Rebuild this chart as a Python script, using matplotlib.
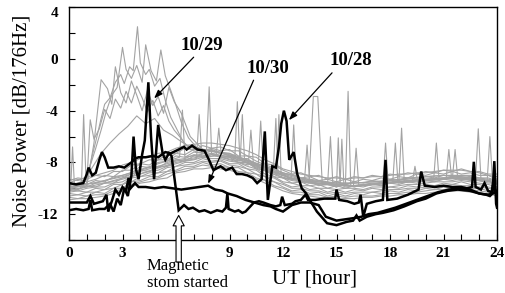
import numpy as np
import matplotlib.pyplot as plt

plt.rcParams['font.family'] = ['Liberation Serif', 'DejaVu Serif']

# axis ticks (the "6" label is hidden behind the storm arrow in the original)
x_ticks = [0, 3, 6, 9, 12, 15, 18, 21, 24]
x_tick_labels = ['0', '3', '', '9', '12', '15', '18', '21', '24']
y_ticks = [-12, -8, -4, 0, 4]
y_tick_labels = ['-12', '-8', '-4', '0', '4']

# quiet days, half-hourly values (0..24 UT)
g1 = [-9.4, -9.2, -9.3, -9.0, -9.1, -8.7, -8.7, -8.2, -8.1, -7.8, -7.8, -7.4, -7.3, -6.9, -7.0, -6.7, -6.9, -6.8, -7.1, -7.1, -7.5, -7.6, -8.1, -8.2, -8.6, -8.9, -8.8, -9.1, -9.0, -9.3, -9.1, -9.3, -9.1, -9.2, -9.0, -9.1, -8.9, -9.0, -8.8, -8.9, -8.7, -8.8, -8.6, -8.7, -8.5, -8.7, -8.7, -8.9, -8.9]
g2 = [-9.8, -9.6, -9.7, -9.4, -9.5, -9.1, -9.0, -8.8, -8.3, -8.4, -8.0, -7.9, -7.5, -7.6, -7.2, -7.3, -7.1, -7.3, -7.3, -7.7, -7.7, -8.2, -8.3, -8.8, -8.9, -9.3, -9.2, -9.5, -9.4, -9.6, -9.5, -9.7, -9.5, -9.6, -9.4, -9.5, -9.3, -9.4, -9.2, -9.3, -9.1, -9.2, -9.0, -9.1, -9.0, -9.0, -9.2, -9.2, -9.4]
g3 = [-10.0, -10.1, -9.8, -9.9, -9.6, -9.6, -9.2, -9.1, -8.6, -8.7, -8.3, -8.3, -7.8, -7.9, -7.5, -7.6, -7.4, -7.6, -7.6, -8.0, -8.0, -8.5, -8.6, -9.1, -9.2, -9.6, -9.5, -9.8, -9.7, -10.0, -9.8, -10.0, -9.8, -9.9, -9.7, -9.8, -9.6, -9.7, -9.5, -9.6, -9.4, -9.5, -9.3, -9.4, -9.2, -9.4, -9.4, -9.6, -9.6]
g4 = [-10.3, -10.2, -10.3, -10.0, -10.1, -9.7, -9.7, -9.2, -9.1, -8.8, -8.8, -8.4, -8.3, -8.0, -8.0, -7.7, -7.9, -7.8, -8.1, -8.1, -8.5, -8.6, -9.1, -9.2, -9.6, -9.9, -9.8, -10.1, -10.0, -10.3, -10.1, -10.3, -10.1, -10.2, -10.0, -10.1, -9.9, -10.0, -9.8, -9.9, -9.7, -9.8, -9.6, -9.7, -9.5, -9.7, -9.7, -9.9, -10.0]
g5 = [-10.6, -10.5, -10.6, -10.3, -10.4, -10.0, -10.0, -9.5, -9.4, -9.1, -9.1, -8.7, -8.6, -8.3, -8.3, -8.0, -8.2, -8.1, -8.4, -8.4, -8.8, -8.9, -9.4, -9.5, -9.9, -10.2, -10.1, -10.4, -10.3, -10.6, -10.4, -10.6, -10.4, -10.5, -10.3, -10.4, -10.2, -10.3, -10.1, -10.2, -10.0, -10.1, -9.9, -10.0, -9.8, -10.0, -10.0, -10.2, -10.3]
g6 = [-10.9, -10.8, -10.8, -10.7, -10.6, -10.4, -10.2, -9.9, -9.6, -9.5, -9.3, -9.2, -8.8, -8.7, -8.5, -8.5, -8.4, -8.5, -8.6, -8.8, -9.0, -9.3, -9.6, -9.9, -10.2, -10.4, -10.5, -10.6, -10.7, -10.8, -10.8, -10.8, -10.8, -10.7, -10.7, -10.6, -10.6, -10.5, -10.5, -10.4, -10.4, -10.3, -10.3, -10.2, -10.2, -10.3, -10.4, -10.4, -10.6]
g7 = [-9.6, -9.3, -9.5, -9.3, -9.0, -9.1, -8.6, -8.6, -8.1, -8.2, -7.8, -7.8, -7.3, -7.4, -7.0, -7.1, -6.9, -7.1, -7.0, -7.5, -7.5, -7.9, -8.2, -8.4, -8.9, -8.9, -9.2, -9.1, -9.4, -9.3, -9.5, -9.3, -9.5, -9.3, -9.4, -9.2, -9.3, -9.1, -9.2, -8.9, -9.0, -8.8, -8.9, -8.7, -8.9, -8.8, -9.0, -9.0, -9.3]
g8 = [-9.9, -9.8, -9.9, -9.6, -9.6, -9.4, -9.2, -8.9, -8.6, -8.4, -8.4, -8.0, -7.8, -7.7, -7.4, -7.5, -7.3, -7.5, -7.5, -7.8, -8.0, -8.2, -8.6, -8.8, -9.2, -9.4, -9.5, -9.5, -9.8, -9.7, -9.9, -9.7, -9.9, -9.7, -9.7, -9.6, -9.6, -9.5, -9.5, -9.4, -9.3, -9.3, -9.3, -9.1, -9.2, -9.2, -9.4, -9.4, -9.6]
g9 = [-10.1, -10.2, -10.0, -9.9, -9.9, -9.6, -9.5, -9.1, -8.9, -8.7, -8.6, -8.3, -8.1, -7.9, -7.8, -7.6, -7.7, -7.7, -7.9, -8.0, -8.3, -8.5, -8.9, -9.1, -9.5, -9.6, -9.8, -9.8, -10.0, -10.0, -10.1, -10.0, -10.0, -10.1, -9.9, -9.9, -9.9, -9.8, -9.7, -9.7, -9.6, -9.5, -9.5, -9.5, -9.4, -9.5, -9.6, -9.7, -9.9]
g10 = [-10.4, -10.5, -10.3, -10.3, -10.1, -10.0, -9.7, -9.5, -9.1, -9.0, -8.8, -8.7, -8.3, -8.2, -8.1, -7.9, -8.0, -7.9, -8.2, -8.3, -8.5, -8.9, -9.1, -9.5, -9.7, -10.0, -10.0, -10.2, -10.2, -10.4, -10.3, -10.4, -10.3, -10.3, -10.3, -10.2, -10.1, -10.1, -10.0, -10.0, -9.9, -9.8, -9.8, -9.7, -9.8, -9.8, -9.9, -10.0, -10.1]
g11 = [-9.3, -9.4, -9.1, -9.0, -8.8, -8.6, -8.2, -8.0, -7.7, -7.5, -7.3, -7.2, -6.9, -6.7, -6.6, -6.5, -6.5, -6.6, -6.7, -6.9, -7.1, -7.4, -7.8, -8.1, -8.5, -8.7, -8.9, -9.0, -9.1, -9.2, -9.2, -9.3, -9.2, -9.2, -9.1, -9.1, -9.0, -8.9, -8.9, -8.8, -8.8, -8.7, -8.6, -8.6, -8.6, -8.7, -8.8, -9.0, -9.1]
g12 = [-10.7, -10.8, -10.6, -10.5, -10.5, -10.2, -10.1, -9.7, -9.5, -9.3, -9.2, -8.9, -8.7, -8.5, -8.4, -8.2, -8.3, -8.3, -8.4, -8.7, -8.8, -9.2, -9.4, -9.8, -10.0, -10.3, -10.3, -10.5, -10.5, -10.7, -10.6, -10.7, -10.6, -10.6, -10.6, -10.5, -10.4, -10.4, -10.3, -10.3, -10.2, -10.1, -10.1, -10.0, -10.1, -10.1, -10.2, -10.3, -10.4]

# disturbed quiet days with an early-morning rise
hump1_h = [0, 0.5, 1.0, 1.3, 1.6, 1.8, 2.0, 2.3, 2.6, 2.9, 3.1, 3.4, 3.6, 3.84, 4.0, 4.3, 4.5, 4.8, 5.1, 5.4, 5.7, 6.0, 6.4, 6.8, 7.2, 8, 9, 10, 11, 12, 13, 14, 15, 16, 17, 18, 19, 20, 21, 22, 23, 24]
hump1_v = [-9.7, -9.6, -9.3, -7.5, -5.8, -4.6, -3.5, -3.0, -1.8, -1.2, -1.9, -0.6, -0.9, 2.5, -0.3, -1.2, -0.8, -2.1, -1.5, -3.2, -4.5, -5.3, -6.4, -7.0, -7.2, -7.3, -7.6, -8.0, -8.5, -9.0, -9.4, -9.6, -9.7, -9.8, -9.6, -9.5, -9.4, -9.3, -9.2, -9.1, -9.3, -9.5]
hump2_h = [0, 0.5, 1.0, 1.2, 1.5, 1.8, 2.1, 2.4, 2.7, 3.0, 3.2, 3.5, 3.8, 4.1, 4.3, 4.6, 4.9, 5.15, 5.4, 5.7, 6.0, 6.3, 6.7, 7.2, 8, 9, 10, 11, 12, 13, 14, 15, 16, 17, 18, 19, 20, 21, 22, 23, 24]
hump2_v = [-9.9, -9.8, -9.6, -8.2, -6.9, -5.5, -4.0, -2.8, -2.2, 0.9, -0.8, -1.5, -0.5, -1.8, 1.1, -0.9, -1.7, 0.7, -1.3, -2.4, -3.6, -4.9, -6.1, -6.9, -7.1, -7.4, -7.9, -8.3, -8.8, -9.2, -9.5, -9.7, -9.8, -9.7, -9.6, -9.4, -9.3, -9.2, -9.2, -9.3, -9.6]
hump3_h = [0, 0.5, 1.0, 1.4, 1.8, 2.16, 2.4, 2.6, 2.9, 3.2, 3.5, 3.8, 4.1, 4.4, 4.7, 5.0, 5.3, 5.6, 5.9, 6.3, 6.8, 7.5, 8.5, 9.5, 10.5, 11.5, 12.5, 13.5, 15, 16.5, 18, 19.5, 21, 22.5, 24]
hump3_v = [-10.0, -9.9, -9.8, -6.5, -1.6, -2.3, -3.5, -0.6, -2.6, -3.4, -1.7, -2.8, -4.0, -2.4, -3.6, -2.9, -4.2, -2.2, -3.3, -4.2, -6.0, -7.0, -7.3, -7.6, -8.1, -8.7, -9.3, -9.6, -9.8, -9.8, -9.6, -9.4, -9.2, -9.3, -9.6]
hump4_h = [0, 0.6, 1.0, 1.19, 1.4, 1.7, 2.0, 2.3, 2.6, 2.9, 3.2, 3.5, 3.8, 4.1, 4.4, 4.7, 5.0, 5.3, 5.6, 5.9, 6.2, 6.6, 7.0, 7.5, 8, 9, 10, 11, 12, 13, 14, 15, 16, 17, 18, 19, 20, 21, 22, 23, 24]
hump4_v = [-10.1, -10.0, -9.6, -4.7, -6.2, -5.4, -3.9, -4.6, -3.1, -3.8, -2.5, -3.4, -2.1, -3.0, -4.1, -3.2, -4.4, -3.6, -4.8, -5.5, -6.0, -6.7, -6.9, -7.1, -7.0, -7.5, -7.9, -8.4, -8.9, -9.3, -9.5, -9.6, -9.6, -9.5, -9.4, -9.3, -9.1, -9.0, -9.0, -9.2, -9.4]
hump5_h = [0, 0.7, 0.82, 0.95, 1.3, 1.8, 2.3, 2.8, 3.3, 3.8, 4.3, 4.8, 5.3, 5.8, 6.3, 6.8, 7.3, 8, 9, 10, 11, 12, 13, 14, 15, 16, 17, 18, 19, 20, 21, 22, 23, 24]
hump5_v = [-9.9, -9.7, -4.3, -9.2, -8.4, -7.3, -6.5, -5.8, -5.2, -4.4, -5.0, -4.6, -5.5, -5.9, -6.4, -6.8, -7.0, -7.1, -7.3, -7.8, -8.3, -8.8, -9.2, -9.4, -9.6, -9.6, -9.5, -9.4, -9.2, -9.1, -9.0, -9.1, -9.3, -9.5]

# quiet days with short impulsive noise
s1_h = [0, 0.1, 0.2, 0.3, 1.5, 3, 5, 6.2, 6.36, 6.5, 7.7, 7.86, 8.0, 9.3, 9.44, 9.58, 11.45, 11.6, 11.72, 13.2, 13.35, 13.5, 15.5, 15.65, 15.8, 18.5, 18.65, 18.8, 20.45, 20.6, 20.75, 22.8, 22.95, 23.1, 24]
s1_v = [-9.9, -9.8, -6.8, -9.7, -9.6, -9.0, -8.1, -7.6, -3.95, -7.6, -7.3, -2.15, -7.4, -7.6, -3.3, -7.8, -8.8, -4.6, -8.9, -9.5, -6.66, -9.6, -9.8, -2.5, -9.8, -9.5, -5.35, -9.5, -9.3, -6.5, -9.3, -9.2, -5.4, -9.3, -9.6]
s2_h = [0, 3, 6, 7.15, 7.3, 7.45, 8.25, 8.4, 8.55, 9.6, 9.72, 9.85, 11.65, 11.77, 11.9, 12.45, 12.6, 12.75, 13.45, 13.7, 13.95, 14.2, 15.95, 16.1, 16.25, 17.6, 17.75, 17.9, 21.15, 21.3, 21.45, 23.45, 23.6, 23.75, 24]
s2_v = [-10.2, -9.3, -8.0, -7.7, -4.3, -7.6, -7.5, -5.35, -7.6, -7.9, -4.3, -8.0, -9.0, -4.3, -9.1, -9.3, -5.1, -9.4, -9.6, -2.9, -2.9, -9.6, -9.8, -6.9, -9.8, -9.6, -6.5, -9.6, -9.3, -7.0, -9.2, -9.4, -6.0, -9.5, -9.7]
s3_h = [0, 3, 6, 8, 10.05, 10.2, 10.35, 10.6, 10.75, 10.9, 12, 14.5, 14.66, 14.8, 15.0, 15.1, 15.2, 15.3, 15.42, 18.15, 18.3, 18.45, 19.25, 19.4, 19.55, 21.5, 21.65, 21.8, 24]
s3_v = [-10.0, -9.1, -7.9, -7.4, -8.2, -5.5, -8.3, -8.5, -4.8, -8.6, -9.2, -9.7, -6.0, -9.8, -9.9, -6.1, -9.8, -6.2, -9.9, -9.6, -6.5, -9.6, -9.5, -8.3, -9.5, -9.2, -7.0, -9.3, -9.5]

# storm days (black)
h_1028 = [0, 0.4, 0.8, 1.0, 1.1, 1.3, 1.5, 1.7, 1.85, 2.0, 2.2, 2.5, 2.8, 3.1, 3.3, 3.5, 3.7, 3.9, 4.3, 4.7, 5.0, 5.4, 5.7, 6.0, 6.45, 6.6, 6.9, 7.2, 7.6, 7.85, 8.1, 8.5, 8.8, 9.15, 9.4, 9.7, 10.0, 10.3, 10.55, 10.8, 10.98, 11.15, 11.4, 11.6, 11.77, 11.9, 12.05, 12.2, 12.35, 12.6, 12.8, 13.05, 13.3, 13.5, 13.9, 14.47, 15.0, 15.56, 15.93, 16.12, 16.3, 16.7, 17.2, 17.6, 18.2, 18.8, 19.5, 20.0, 20.6, 21.2, 21.8, 22.5, 23.0, 23.5, 24.0]
v_1028 = [-9.6, -9.7, -9.6, -8.9, -8.4, -9.0, -8.8, -7.8, -7.2, -7.6, -8.4, -8.4, -8.3, -8.4, -8.2, -8.0, -7.7, -7.6, -7.6, -7.5, -7.6, -7.2, -7.3, -7.1, -6.8, -7.0, -6.7, -7.0, -7.1, -7.8, -8.6, -8.3, -8.6, -8.4, -8.9, -8.9, -9.0, -9.2, -9.6, -9.3, -5.6, -10.9, -8.3, -8.4, -6.8, -5.0, -4.0, -4.8, -7.8, -7.2, -8.9, -10.0, -10.4, -10.9, -11.8, -12.7, -12.85, -12.6, -12.5, -12.1, -12.5, -12.2, -12.0, -11.9, -11.7, -11.4, -11.0, -10.8, -10.4, -10.2, -10.1, -10.2, -10.4, -10.5, -10.3]
h_1029 = [0, 0.4, 0.8, 1.1, 1.2, 1.3, 1.7, 2.0, 2.3, 2.5, 2.7, 2.9, 3.1, 3.3, 3.5, 3.62, 3.75, 3.9, 4.1, 4.25, 4.45, 4.6, 4.77, 5.0, 5.25, 5.4, 5.6, 5.75, 6.15, 6.45, 6.7, 6.95, 7.3, 7.6, 7.95, 8.3, 8.6, 8.8, 8.88, 8.95, 9.3, 9.5, 9.72, 9.9, 10.1, 10.37, 10.65, 10.9, 11.3, 11.6, 11.85, 11.95, 12.1, 12.5, 12.7, 13.0, 13.26, 13.4, 13.8, 14.3, 14.93, 15.0, 15.15, 15.6, 16.0, 16.25, 16.35, 16.5, 16.7, 17.2, 17.6, 17.75, 17.85, 18.4, 19.0, 19.6, 19.75, 19.95, 20.5, 21.0, 21.5, 22.0, 22.3, 22.6, 22.7, 22.8, 23.1, 23.3, 23.5, 23.7, 23.8, 23.9, 24.0]
v_1029 = [-11.7, -11.6, -11.7, -11.6, -10.9, -11.7, -11.6, -11.6, -11.2, -11.8, -10.8, -11.3, -10.0, -10.6, -9.0, -6.0, -8.5, -9.3, -7.4, -6.3, -1.8, -6.0, -9.3, -5.1, -7.3, -7.8, -7.3, -7.5, -11.7, -11.3, -11.6, -11.5, -11.8, -11.7, -11.9, -11.7, -11.8, -11.5, -10.4, -11.6, -11.8, -11.7, -11.9, -11.8, -11.5, -11.1, -11.0, -11.1, -11.3, -11.4, -11.3, -10.65, -11.3, -11.2, -11.0, -10.9, -10.5, -10.9, -10.9, -10.8, -10.8, -10.1, -10.9, -11.0, -11.2, -11.1, -10.5, -12.2, -11.2, -11.0, -10.9, -7.8, -10.9, -10.8, -10.5, -10.1, -8.7, -9.8, -9.9, -9.8, -9.9, -9.9, -10.0, -9.9, -7.95, -9.9, -10.1, -9.6, -10.2, -10.3, -9.4, -10.3, -10.2]
h_1030 = [0, 0.5, 1.0, 1.2, 1.4, 1.9, 2.1, 2.2, 2.4, 2.6, 2.8, 3.0, 3.2, 3.34, 3.45, 3.7, 3.9, 4.3, 4.8, 5.3, 5.8, 6.3, 6.8, 7.3, 7.8, 8.2, 8.6, 8.9, 9.4, 9.9, 10.4, 10.9, 11.3, 11.6, 12.0, 12.5, 13.0, 13.5, 14.0, 14.4, 15.0, 15.5, 16.0, 16.4, 16.8, 17.3, 17.8, 18.3, 18.9, 19.5, 20.1, 20.7, 21.3, 21.9, 22.5, 23.0, 23.4, 23.6, 23.75, 23.85, 23.95, 24.0]
v_1030 = [-11.1, -11.1, -11.1, -10.6, -11.2, -11.0, -10.5, -11.8, -11.0, -10.1, -10.5, -9.9, -10.2, -9.2, -10.0, -9.6, -9.9, -9.9, -10.0, -9.9, -10.0, -10.1, -10.0, -9.9, -9.8, -10.1, -10.2, -10.4, -10.6, -10.9, -11.1, -11.3, -11.4, -11.6, -11.8, -11.3, -11.1, -11.1, -11.3, -12.2, -12.5, -12.4, -12.3, -12.2, -12.0, -11.9, -11.7, -11.5, -11.2, -10.9, -10.6, -10.3, -10.1, -10.0, -10.1, -10.4, -10.5, -10.6, -10.4, -7.9, -11.2, -11.5]

gray_days = [g1, g2, g3, g4, g5, g6, g7, g8, g9, g10, g11, g12]
gray_events = [(hump1_h, hump1_v), (hump2_h, hump2_v), (hump3_h, hump3_v),
               (hump4_h, hump4_v), (hump5_h, hump5_v),
               (s1_h, s1_v), (s2_h, s2_v), (s3_h, s3_v)]
storm_days = [(h_1028, v_1028), (h_1029, v_1029), (h_1030, v_1030)]

fig = plt.figure(figsize=(5.05, 2.93), dpi=100)
ax = fig.add_axes([69 / 505, 1 - 240 / 293, 428 / 505, 232.7 / 293])

gray = '#a3a3a3'
for vals in gray_days:
    ax.plot(np.linspace(0, 24, len(vals)), vals, color=gray, lw=0.8)
for hrs, vals in gray_events:
    ax.plot(hrs, vals, color=gray, lw=0.8)
for hrs, vals in storm_days:
    ax.plot(hrs, vals, color='black', lw=1.8, solid_joinstyle='miter')

ax.set_xlim(0, 24)
ax.set_ylim(-14, 4)
ax.set_xticks(x_ticks)
ax.set_xticklabels(x_tick_labels)
ax.set_xticks(range(25), minor=True)
ax.set_yticks(y_ticks)
ax.set_yticklabels(y_tick_labels)
ax.set_yticks(np.arange(-14, 5, 2), minor=True)
ax.tick_params(which='both', direction='in', length=4, width=0.8, top=False, right=False)
ax.tick_params(axis='y', pad=8, labelsize=11)
ax.tick_params(axis='x', pad=5, labelsize=11)
for lab in ax.get_xticklabels() + ax.get_yticklabels():
    lab.set_fontweight('bold')
ax.get_yticklabels()[-1].set_va('top')
for s in ax.spines.values():
    s.set_linewidth(1.0)

# date labels with arrows
arrow = dict(arrowstyle='-|>,head_length=0.5,head_width=0.18', color='black',
             lw=0.9, shrinkA=0, shrinkB=0)
ax.text(7.47, 1.07, '10/29', ha='center', va='center', fontsize=13.5, fontweight='bold')
ax.annotate('', xy=(4.77, -3.05), xytext=(6.99, 0.14), arrowprops=arrow)
ax.text(11.13, -0.71, '10/30', ha='center', va='center', fontsize=13.5, fontweight='bold')
ax.annotate('', xy=(7.8, -9.65), xytext=(10.35, -1.64), arrowprops=arrow)
ax.text(15.8, -0.13, '10/28', ha='center', va='center', fontsize=13.5, fontweight='bold')
ax.annotate('', xy=(12.33, -4.73), xytext=(14.75, -1.07), arrowprops=arrow)

# storm onset marker
ax.annotate('', xy=(6.15, -12.1), xytext=(6.15, -15.7),
            arrowprops=dict(arrowstyle='simple,head_length=0.75,head_width=0.8,tail_width=0.38',
                            mutation_scale=10, fc='white', ec='black', lw=0.8,
                            shrinkA=0, shrinkB=0),
            annotation_clip=False, zorder=5)
fig.text(147 / 505, 1 - 258 / 293, 'Magnetic\nstom started', ha='left', va='top',
         fontsize=12, linespacing=1.1)

fig.text(315 / 505, 1 - 279 / 293, 'UT [hour]', ha='center', va='center', fontsize=15)
fig.text(22 / 505, 1 - 121 / 293, 'Noise Power [dB/176Hz]', ha='center', va='center',
         rotation=90, fontsize=15)

fig.savefig('out.png', dpi=100)
